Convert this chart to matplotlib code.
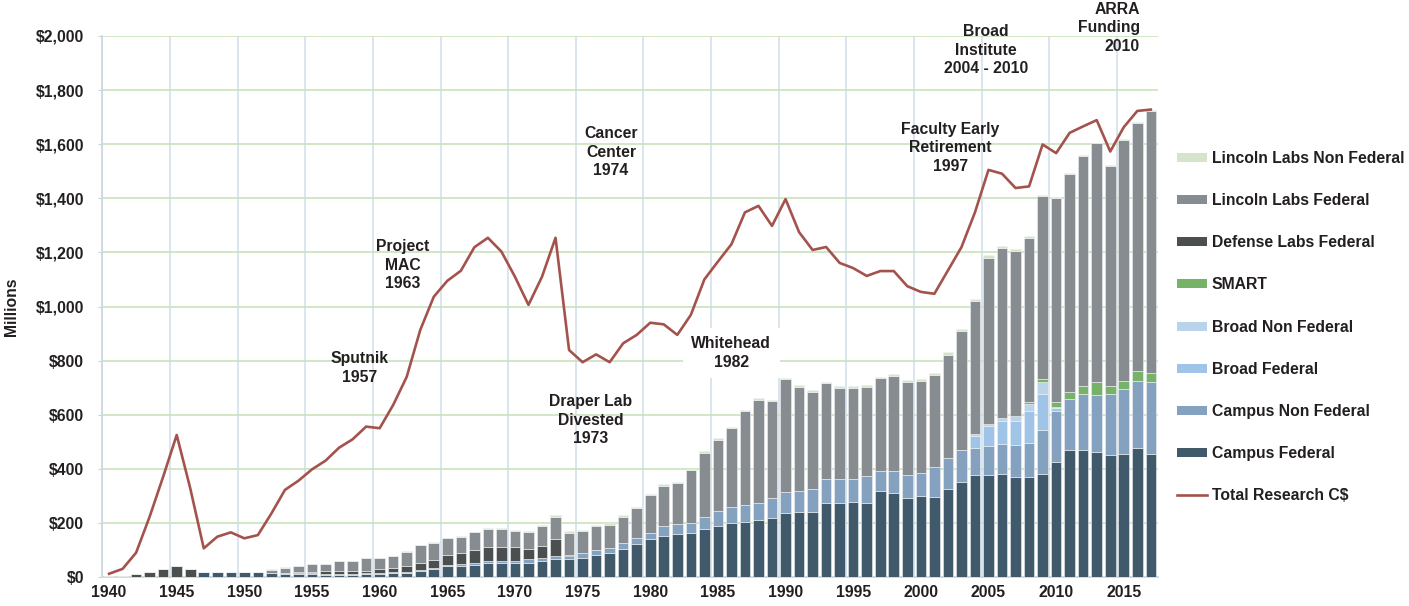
import numpy as np
import matplotlib
matplotlib.use('Agg')
import matplotlib.pyplot as plt
from matplotlib.patches import Patch
from matplotlib.lines import Line2D
from matplotlib.ticker import FuncFormatter

plt.rcParams['font.family'] = ['Liberation Sans', 'DejaVu Sans']
plt.rcParams['font.weight'] = 'bold'

years = np.arange(1940, 2018)

campus_federal = [
    0, 0, 0, 0, 0, 0, 0, 18, 18, 18,
    18, 18, 13, 11, 10, 10, 9, 9, 9, 12,
    12, 13, 16, 22, 28, 41, 41, 44, 53, 53,
    53, 53, 59, 65, 65, 71, 82, 87, 103, 121,
    140, 152, 158, 163, 176, 188, 200, 204, 211, 219,
    235, 242, 242, 272, 272, 278, 272, 317, 312, 293,
    299, 297, 325, 350, 376, 376, 380, 368, 368, 380,
    426, 469, 469, 463, 452, 456, 476, 456]
campus_non_federal = [
    0, 0, 0, 0, 0, 0, 0, 0, 0, 0,
    0, 0, 1, 2, 3, 3, 2, 3, 3, 3,
    4, 4, 4, 5, 5, 3, 6, 8, 7, 6,
    6, 12, 10, 12, 12, 17, 19, 19, 21, 22,
    24, 36, 37, 37, 46, 55, 59, 62, 61, 72,
    78, 77, 82, 89, 89, 83, 101, 75, 80, 84,
    84, 109, 115, 119, 100, 107, 113, 119, 129, 162,
    188, 190, 208, 211, 225, 239, 249, 264]
broad_federal = [0] * 64 + [47, 76, 83, 89, 117, 135, 10, 0, 0, 0, 0, 0, 0, 0]
broad_non_federal = [0] * 64 + [7, 7, 12, 18, 27, 43, 4, 0, 0, 0, 0, 0, 0, 0]
smart = [0] * 68 + [7, 11, 20, 25, 30, 46, 30, 30, 38, 33]
defense_labs_federal = [
    2, 4, 10, 18, 30, 42, 30, 0, 0, 0,
    0, 0, 2, 3, 5, 4, 10, 10, 10, 6,
    12, 15, 22, 25, 28, 37, 40, 48, 52, 53,
    53, 38, 47, 63, 6] + [0] * 43
lincoln_labs_federal = [
    0, 0, 0, 0, 0, 0, 0, 0, 0, 0,
    0, 0, 11, 19, 22, 31, 27, 37, 37, 49,
    42, 44, 52, 65, 66, 62, 61, 65, 64, 64,
    58, 62, 72, 83, 81, 82, 87, 88, 99, 111,
    138, 150, 153, 196, 238, 265, 290, 348, 383, 360,
    418, 384, 361, 355, 339, 336, 330, 342, 352, 345,
    342, 342, 380, 440, 491, 615, 629, 613, 606, 677,
    754, 807, 849, 883, 813, 891, 917, 970]
lincoln_labs_non_federal = [
    0, 0, 0, 0, 0, 0, 0, 0, 0, 0,
    0, 0, 1, 1, 1, 1, 1, 1, 1, 1,
    1, 1, 1, 1, 1, 2, 2, 3, 5, 5,
    5, 5, 4, 6, 5, 2, 4, 5, 5, 4,
    5, 5, 5, 4, 5, 5, 6, 5, 5, 2,
    3, 6, 5, 6, 5, 10, 6, 5, 6, 7,
    7, 8, 12, 7, 7, 8, 7, 4, 6, 4,
    4, 4, 4, 3, 3, 3, 3, 3]
total_research_cd = [
    12, 30, 90, 223, 371, 525, 328, 106, 149, 165,
    143, 155, 235, 322, 356, 398, 430, 478, 509, 556,
    550, 636, 740, 913, 1036, 1095, 1132, 1219, 1254, 1203,
    1110, 1006, 1110, 1254, 839, 794, 823, 794, 864, 895,
    940, 934, 895, 969, 1100, 1166, 1230, 1348, 1372, 1298,
    1397, 1275, 1209, 1220, 1161, 1142, 1113, 1131, 1131, 1075,
    1054, 1047, 1133, 1219, 1348, 1505, 1491, 1438, 1444, 1599,
    1567, 1642, 1666, 1689, 1573, 1663, 1723, 1728]

series_names = ['Campus Federal', 'Campus Non Federal', 'Broad Federal',
                'Broad Non Federal', 'SMART', 'Defense Labs Federal',
                'Lincoln Labs Federal', 'Lincoln Labs Non Federal']
series_values = [campus_federal, campus_non_federal, broad_federal,
                 broad_non_federal, smart, defense_labs_federal,
                 lincoln_labs_federal, lincoln_labs_non_federal]
series_colors = ['#415a6b', '#84a1bf', '#9fc4e7', '#b8d3ea',
                 '#76b368', '#4b4f4f', '#878c91', '#d6e4cb']
line_label = 'Total Research C$'
line_color = '#a4524c'

# (text, x in years, y in $M, horizontal alignment, white box)
annotations = [
    ('Sputnik\n1957', 1958.5, 773, 'center', False),
    ('Project\nMAC\n1963', 1961.7, 1153, 'center', False),
    ('Cancer\nCenter\n1974', 1977.1, 1571, 'center', False),
    ('Draper Lab\nDivested\n1973', 1975.6, 580, 'center', False),
    ('Whitehead\n1982', 1986.0, 828, 'center', True),
    ('Faculty Early\nRetirement\n1997', 2002.2, 1586, 'center', False),
    ('Broad\nInstitute\n2004 - 2010', 2004.8, 1948, 'center', False),
    ('ARRA\nFunding\n2010', 2016.2, 2030, 'right', False),
]

text_color = '#231f20'
fs = 11.3


def draw_bars(ax):
    bottom = np.zeros(len(years))
    for name, vals, color in zip(series_names, series_values, series_colors):
        vals = np.array(vals, dtype=float)
        ax.bar(years, vals, width=0.78, bottom=bottom, color=color,
               edgecolor='#eef1f3', linewidth=0.4, label=name, zorder=3)
        bottom += vals
    # line sits above the annotation boxes so the white box never hides it
    ax.plot(years, total_research_cd, color=line_color, linewidth=1.9,
            zorder=7, label=line_label)


def style_axes(ax):
    ax.set_xlim(1939.5, 2017.5)
    ax.set_ylim(0, 2000)

    ax.set_yticks(np.arange(0, 2001, 200))
    ax.yaxis.set_major_formatter(FuncFormatter(lambda v, p: f'${v:,.0f}'))
    ax.set_xticks(np.arange(1940, 2016, 5))
    ax.set_xticks(np.arange(1939.5, 2015, 5), minor=True)

    ax.grid(axis='y', color='#c9e1bd', linewidth=1.2, zorder=0)
    ax.grid(axis='x', which='minor', color='#d8e3ee', linewidth=1.3, zorder=0)
    ax.grid(axis='x', which='major', visible=False)
    ax.set_axisbelow(True)

    ax.tick_params(axis='y', length=3, color='#c8d4e0', pad=10,
                   labelsize=fs, labelcolor=text_color)
    ax.tick_params(axis='x', which='both', length=0, pad=6,
                   labelsize=fs, labelcolor=text_color)
    for lab in ax.get_xticklabels() + ax.get_yticklabels():
        lab.set_fontweight('bold')

    for side in ['top', 'right']:
        ax.spines[side].set_visible(False)
    ax.spines['left'].set_color('#cdd8e3')
    ax.spines['bottom'].set_color('#cdd8e3')
    ax.spines['left'].set_linewidth(1.3)
    ax.spines['bottom'].set_linewidth(1.3)

    ax.set_ylabel('Millions', fontsize=fs, fontweight='bold', color=text_color,
                  labelpad=12)


def add_annotations(ax):
    for text, x, y, ha, boxed in annotations:
        kw = {}
        if boxed:
            kw['bbox'] = dict(facecolor='white', edgecolor='none', pad=6)
        ax.text(x, y, text, ha=ha, va='center', multialignment=ha,
                fontsize=fs, fontweight='bold', color=text_color,
                linespacing=1.27, zorder=6, clip_on=False, **kw)


def add_legend(fig):
    handles = [Line2D([0], [0], color=line_color, linewidth=1.9)]
    handles += [Patch(facecolor=c) for c in series_colors]
    labels = [line_label] + series_names
    handles, labels = handles[::-1], labels[::-1]
    fig.legend(handles, labels, loc='upper left',
               bbox_to_anchor=(1177 / 1409, 1 - 151 / 606),
               frameon=False, labelcolor=text_color,
               handlelength=1.9, handleheight=0.5, handletextpad=0.32,
               labelspacing=1.73, borderpad=0, borderaxespad=0,
               prop={'weight': 'bold', 'size': fs})


fig = plt.figure(figsize=(14.09, 6.06), dpi=100)
ax = fig.add_axes([102.3 / 1409, 29 / 606, 1055.3 / 1409, 541 / 606])
draw_bars(ax)
style_axes(ax)
add_annotations(ax)
add_legend(fig)

fig.savefig('out.png', dpi=100, facecolor='white')
